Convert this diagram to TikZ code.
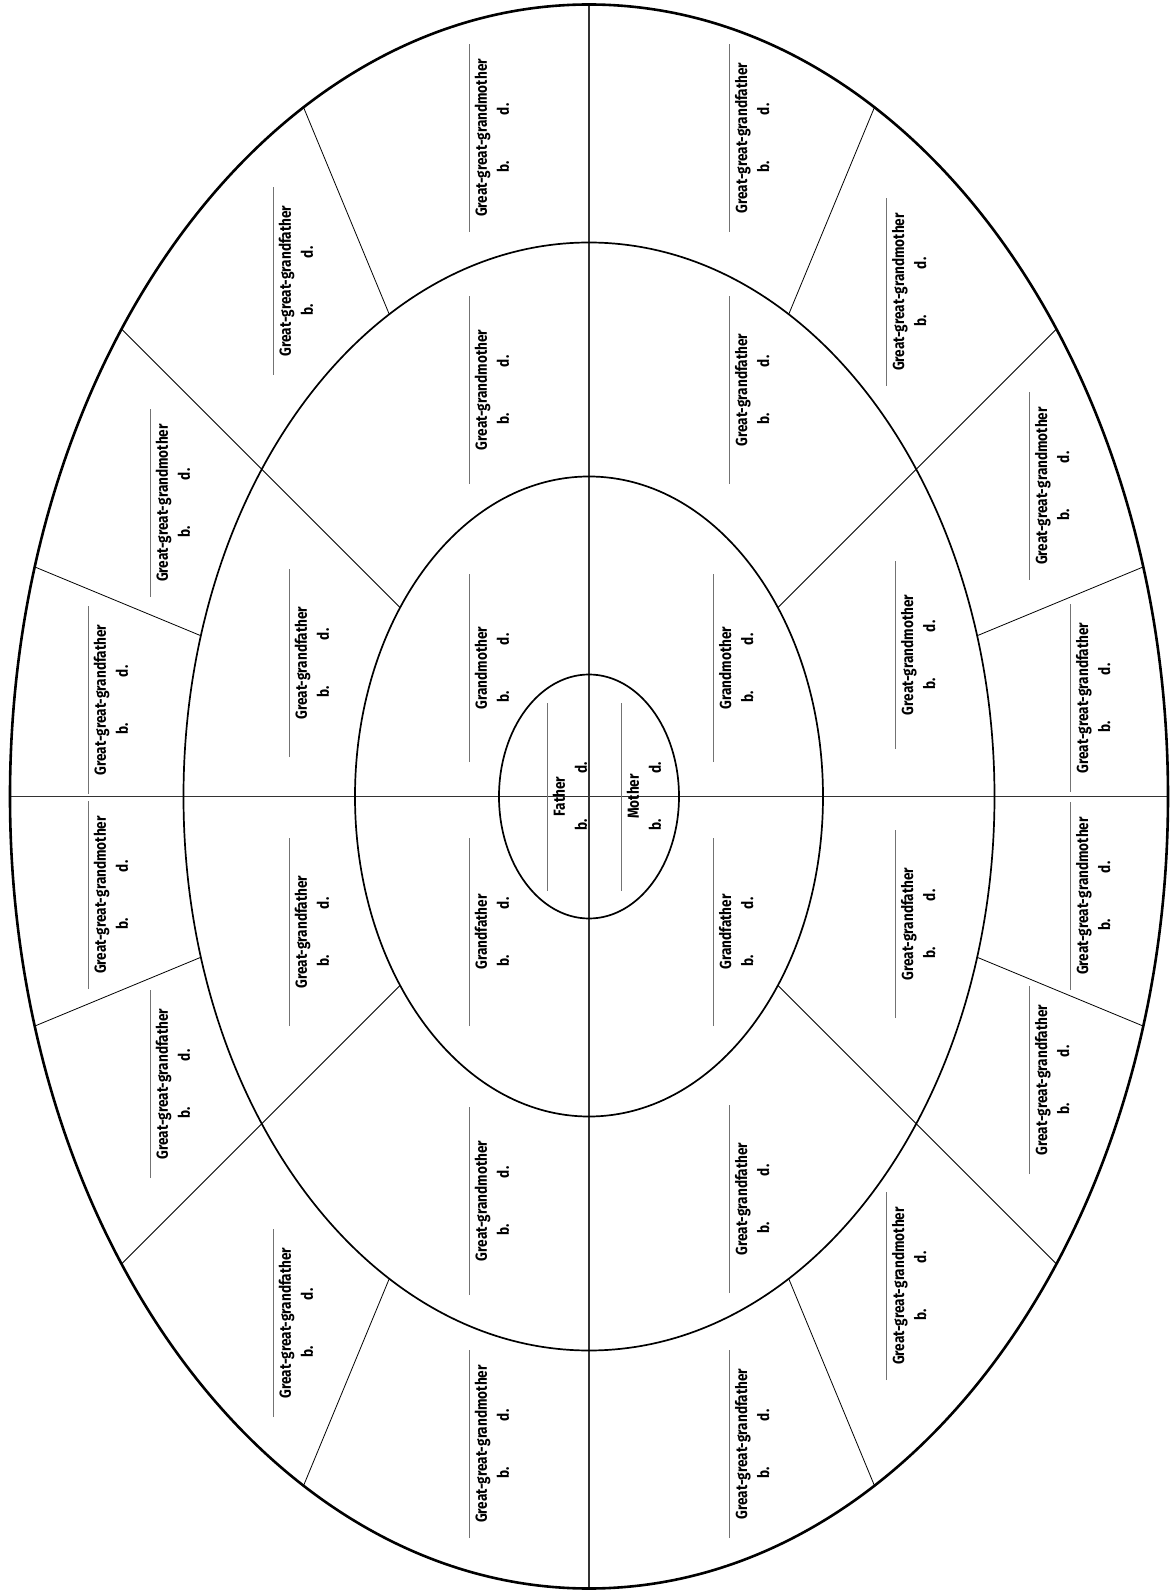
\documentclass[tikz,border=0pt]{standalone}
\usepackage{fontspec}
\setmainfont{Fira Sans}[FakeStretch=0.85]
\usepackage{xcolor}

\newcommand{\slot}[1]{\textcolor{black!55}{\rule{188pt}{0.8pt}}\\#1\\[5pt]b.\hspace{46pt}d.}

\tikzset{
  rim/.style={line width=2.6pt},
  ring/.style={line width=1.7pt},
  axis/.style={line width=1.4pt, black!80},
  spoke/.style={line width=0.8pt},
  person/.style={rotate=90, anchor=north, inner sep=0pt, align=center,
    font=\bfseries\fontsize{16}{17}\selectfont},
}

\begin{document}
\begin{tikzpicture}[x=1pt,y=1pt]
  \useasboundingbox (-589,-796.5) rectangle (581,796.5);

  \foreach \a in {22.5,67.5,...,337.5} {
    \pgfmathsetmacro{\ri}{100/sqrt((cos(\a)/4.055)^2+(sin(\a)/5.54)^2)}
    \pgfmathsetmacro{\ro}{100/sqrt((cos(\a)/5.79)^2+(sin(\a)/7.92)^2)}
    \draw[spoke] (\a:\ri) -- (\a:\ro);
  }
  \foreach \a in {45,135,225,315} {
    \pgfmathsetmacro{\ri}{100/sqrt((cos(\a)/2.34)^2+(sin(\a)/3.20)^2)}
    \pgfmathsetmacro{\ro}{100/sqrt((cos(\a)/5.79)^2+(sin(\a)/7.92)^2)}
    \draw[spoke] (\a:\ri) -- (\a:\ro);
  }
  \draw[axis] (0,792) -- (0,-792);
  \draw[axis] (-579,0) -- (579,0);

  \draw[rim] (0,0) ellipse [x radius=579pt, y radius=792pt];
  \draw[ring] (0,0) ellipse [x radius=405.5pt, y radius=554pt];
  \draw[ring] (0,0) ellipse [x radius=234pt, y radius=320pt];
  \draw[ring] (0,0) ellipse [x radius=90pt, y radius=122pt];

  \node[person] (father) at (-42,0) {\slot{Father}};
  \node[person] (mother) at (32,0) {\slot{Mother}};

  \node[person] (gp1) at (-120,128.5) {\slot{Grandmother}};
  \node[person] (gp2) at (-120,-135.5) {\slot{Grandfather}};
  \node[person] (gp3) at (124,128.5) {\slot{Grandmother}};
  \node[person] (gp4) at (124,-135.5) {\slot{Grandfather}};

  \foreach \x/\y/\who [count=\i] in {
    -120/406.5/Great-grandmother, -300/133.5/Great-grandfather,
    -300/-135.5/Great-grandfather, -120/-404.5/Great-grandmother,
    140/406.5/Great-grandfather, 306/141.5/Great-grandmother,
    306/-127.5/Great-grandfather, 140/-402.5/Great-grandfather} {
    \node[person] (ggp\i) at (\x,\y) {\slot{\who}};
  }

  \foreach \x/\y/\who [count=\i] in {
    -120/658.5/Great-great-grandmother, -316/515.5/Great-great-grandfather,
    -439/293.5/Great-great-grandmother, -501/96.5/Great-great-grandfather,
    -501/-98.5/Great-great-grandmother, -439/-287.5/Great-great-grandfather,
    -316/-526.5/Great-great-grandfather, -120/-647.5/Great-great-grandmother,
    140/658.5/Great-great-grandfather, 297/504.5/Great-great-grandmother,
    440/310.5/Great-great-grandmother, 481/98.5/Great-great-grandfather,
    481/-99.5/Great-great-grandmother, 440/-283.5/Great-great-grandfather,
    297/-489.5/Great-great-grandmother, 140/-647.5/Great-great-grandfather} {
    \node[person] (gggp\i) at (\x,\y) {\slot{\who}};
  }
\end{tikzpicture}
\end{document}
